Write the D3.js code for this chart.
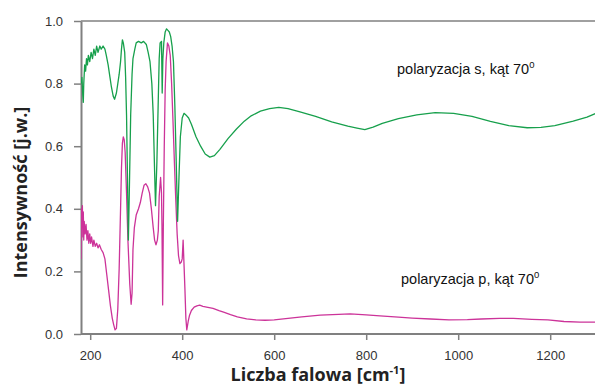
<!DOCTYPE html>
<html>
<head>
<meta charset="utf-8">
<script src="https://cdn.jsdelivr.net/npm/d3@7"></script>
<style>
	body { margin: 0; background: #fff; }
	svg { display: block; }
	.tick text { font-family: "Liberation Sans", Arial, sans-serif; font-size: 13px; fill: #333; }
	.title { font-family: "Open Sans", "Noto Sans", sans-serif; font-weight: bold; fill: #222; }
	.note { font-family: "Liberation Sans", Arial, sans-serif; font-size: 14.5px; fill: #111; }
</style>
</head>
<body>
<div id="chart"></div>
<script>
// --------- Data --------- //
var xTicks = [200, 400, 600, 800, 1000, 1200];
var yTicks = [0, 0.2, 0.4, 0.6, 0.8, 1.0];

// polaryzacja s: [wavenumber, intensity]
var sPol = [
	[181, 0.80], [182, 0.82], [184, 0.76], [185, 0.74], [186, 0.80], [188, 0.86], [190, 0.84], [192, 0.88],
	[194, 0.86], [196, 0.89], [199, 0.87], [202, 0.90], [205, 0.88], [208, 0.91], [211, 0.89], [214, 0.92],
	[217, 0.90], [221, 0.92], [224, 0.91], [228, 0.92], [232, 0.91], [235, 0.89], [239, 0.86], [243, 0.82],
	[246, 0.79], [250, 0.76], [253, 0.75], [257, 0.77], [260, 0.80], [263, 0.83], [266, 0.87], [268, 0.91],
	[270, 0.94], [272, 0.93], [275, 0.90], [277, 0.82], [279, 0.70], [281, 0.50], [283, 0.30], [285, 0.45],
	[288, 0.70], [291, 0.83], [293, 0.88], [297, 0.91], [300, 0.93], [305, 0.935], [311, 0.93], [316, 0.935],
	[322, 0.925], [326, 0.90], [330, 0.87], [334, 0.80], [337, 0.70], [340, 0.52], [342, 0.41], [345, 0.55],
	[348, 0.75], [350, 0.88], [352, 0.93], [355, 0.935], [356.5, 0.77], [358, 0.88], [360, 0.93], [363, 0.965],
	[366, 0.975], [369, 0.97], [372, 0.965], [375, 0.95], [378, 0.92], [381, 0.87], [384, 0.73], [387, 0.55],
	[390, 0.36], [393, 0.50], [396, 0.63], [400, 0.69], [404, 0.705], [408, 0.70], [414, 0.69], [420, 0.67],
	[430, 0.63], [440, 0.60], [450, 0.575], [460, 0.565], [470, 0.57], [482, 0.59], [500, 0.625], [518, 0.655],
	[535, 0.68], [550, 0.697], [570, 0.712], [590, 0.72], [610, 0.724], [630, 0.72], [656, 0.71], [690, 0.695],
	[725, 0.678], [760, 0.664], [780, 0.658], [797, 0.653], [815, 0.661], [835, 0.673], [870, 0.688], [910, 0.70],
	[950, 0.707], [990, 0.705], [1030, 0.695], [1070, 0.679], [1110, 0.666], [1150, 0.659], [1180, 0.66],
	[1210, 0.666], [1250, 0.68], [1280, 0.693], [1300, 0.705]
];

// polaryzacja p: [wavenumber, intensity]
var pPol = [
	[180, 0.24], [181, 0.40], [182, 0.34], [183, 0.41], [184, 0.31], [185, 0.39], [186, 0.30], [187, 0.36],
	[189, 0.32], [191, 0.35], [193, 0.30], [195, 0.33], [197, 0.29], [199, 0.32], [201, 0.29], [203, 0.31],
	[206, 0.28], [208, 0.30], [211, 0.28], [214, 0.29], [217, 0.275], [220, 0.285], [224, 0.27], [228, 0.26],
	[232, 0.24], [236, 0.19], [240, 0.14], [244, 0.09], [248, 0.05], [251, 0.03], [254, 0.013], [257, 0.018],
	[260, 0.08], [263, 0.21], [266, 0.40], [268, 0.53], [270, 0.61], [272, 0.63], [274, 0.62], [276, 0.58],
	[279, 0.45], [282, 0.30], [286, 0.16], [289, 0.095], [291, 0.13], [293, 0.27], [296, 0.34], [300, 0.38],
	[305, 0.40], [309, 0.42], [313, 0.45], [317, 0.475], [321, 0.48], [325, 0.47], [329, 0.45], [333, 0.40],
	[337, 0.34], [340, 0.30], [343, 0.285], [346, 0.30], [348, 0.33], [350, 0.44], [353, 0.50], [355, 0.45],
	[356, 0.35], [357.5, 0.093], [359, 0.35], [361, 0.60], [363, 0.78], [365, 0.87], [368, 0.93], [371, 0.92],
	[374, 0.89], [377, 0.80], [380, 0.68], [383, 0.55], [386, 0.43], [389, 0.32], [392, 0.25], [395, 0.225],
	[398, 0.23], [400, 0.24], [402, 0.30], [404, 0.22], [406, 0.14], [408, 0.05], [410, 0.013], [413, 0.04],
	[416, 0.06], [420, 0.075], [426, 0.086], [432, 0.09], [438, 0.092], [445, 0.088], [453, 0.086], [467, 0.082],
	[480, 0.075], [490, 0.07], [505, 0.062], [520, 0.055], [540, 0.048], [560, 0.045], [580, 0.044], [600, 0.045],
	[630, 0.05], [660, 0.055], [700, 0.06], [740, 0.063], [765, 0.064], [800, 0.061], [830, 0.058], [870, 0.054],
	[900, 0.051], [940, 0.048], [980, 0.045], [1020, 0.046], [1050, 0.048], [1090, 0.05], [1120, 0.05],
	[1160, 0.047], [1195, 0.045], [1230, 0.04], [1265, 0.038], [1300, 0.038]
];
// --------- /Data --------- //

var width = 595, height = 387;
var margin = {left: 81, top: 21, right: 0, bottom: 53};

var svg = d3.select("#chart").append("svg")
	.attr("width", width)
	.attr("height", height);

var x = d3.scaleLinear().domain([180, 1300]).range([margin.left, margin.left + 1120 * 0.46]);
var y = d3.scaleLinear().domain([0, 1]).range([height - margin.bottom, margin.top]);

// clip so the curves stay inside the frame
svg.append("clipPath").attr("id", "plot")
	.append("rect")
	.attr("x", margin.left).attr("y", margin.top)
	.attr("width", width - margin.left).attr("height", y(0) - margin.top);

// top frame line
svg.append("line")
	.attr("x1", margin.left).attr("x2", width)
	.attr("y1", margin.top).attr("y2", margin.top)
	.attr("stroke", "#808080").attr("stroke-width", 1.5);

// --------- Axes --------- //
var xAxis = svg.append("g")
	.attr("transform", "translate(0," + y(0) + ")")
	.call(d3.axisBottom(x).tickValues(xTicks).tickSize(6).tickPadding(11).tickSizeOuter(0)
		.tickFormat(d3.format("d")));

var yAxis = svg.append("g")
	.attr("transform", "translate(" + margin.left + ",0)")
	.call(d3.axisLeft(y).tickValues(yTicks).tickSize(7).tickPadding(11).tickSizeOuter(0)
		.tickFormat(d3.format(".1f")));

[xAxis, yAxis].forEach(function(g){
	g.select(".domain").attr("stroke", "#808080").attr("stroke-width", 2);
	g.selectAll(".tick line").attr("stroke", "#808080").attr("stroke-width", 1.5);
});
xAxis.select(".domain").attr("d", "M" + margin.left + ",0H" + width);
// --------- /Axes --------- //

// --------- Curves --------- //
var line = d3.line()
	.x(function(d){ return x(d[0]); })
	.y(function(d){ return y(d[1]); });

svg.append("path").datum(pPol)
	.attr("clip-path", "url(#plot)")
	.attr("fill", "none")
	.attr("stroke", "#cc3399")
	.attr("stroke-width", 1.3)
	.attr("stroke-linejoin", "round")
	.attr("d", line);

svg.append("path").datum(sPol)
	.attr("clip-path", "url(#plot)")
	.attr("fill", "none")
	.attr("stroke", "#17a04c")
	.attr("stroke-width", 1.3)
	.attr("stroke-linejoin", "round")
	.attr("d", line);
// --------- /Curves --------- //

// --------- Labels --------- //
function note(tx, ty, label){
	var t = svg.append("text").attr("class", "note").attr("x", tx).attr("y", ty);
	t.append("tspan").text(label);
	t.append("tspan").attr("dy", -6).attr("font-size", "9.5px").text("0");
}
note(397, 74, "polaryzacja s, kąt 70");
note(401, 284, "polaryzacja p, kąt 70");

svg.append("text").attr("class", "title")
	.attr("transform", "translate(27," + ((margin.top + y(0)) / 2 + 15) + ") rotate(-90)")
	.attr("text-anchor", "middle")
	.attr("font-size", "18px")
	.text("Intensywność [j.w.]");

var xt = svg.append("text").attr("class", "title")
	.attr("x", 318).attr("y", 381)
	.attr("text-anchor", "middle")
	.attr("font-size", "18px");
xt.append("tspan").text("Liczba falowa [cm");
xt.append("tspan").attr("dy", -7).attr("font-size", "11px").text("-1");
xt.append("tspan").attr("dy", 7).text("]");
// --------- /Labels --------- //
</script>
</body>
</html>
